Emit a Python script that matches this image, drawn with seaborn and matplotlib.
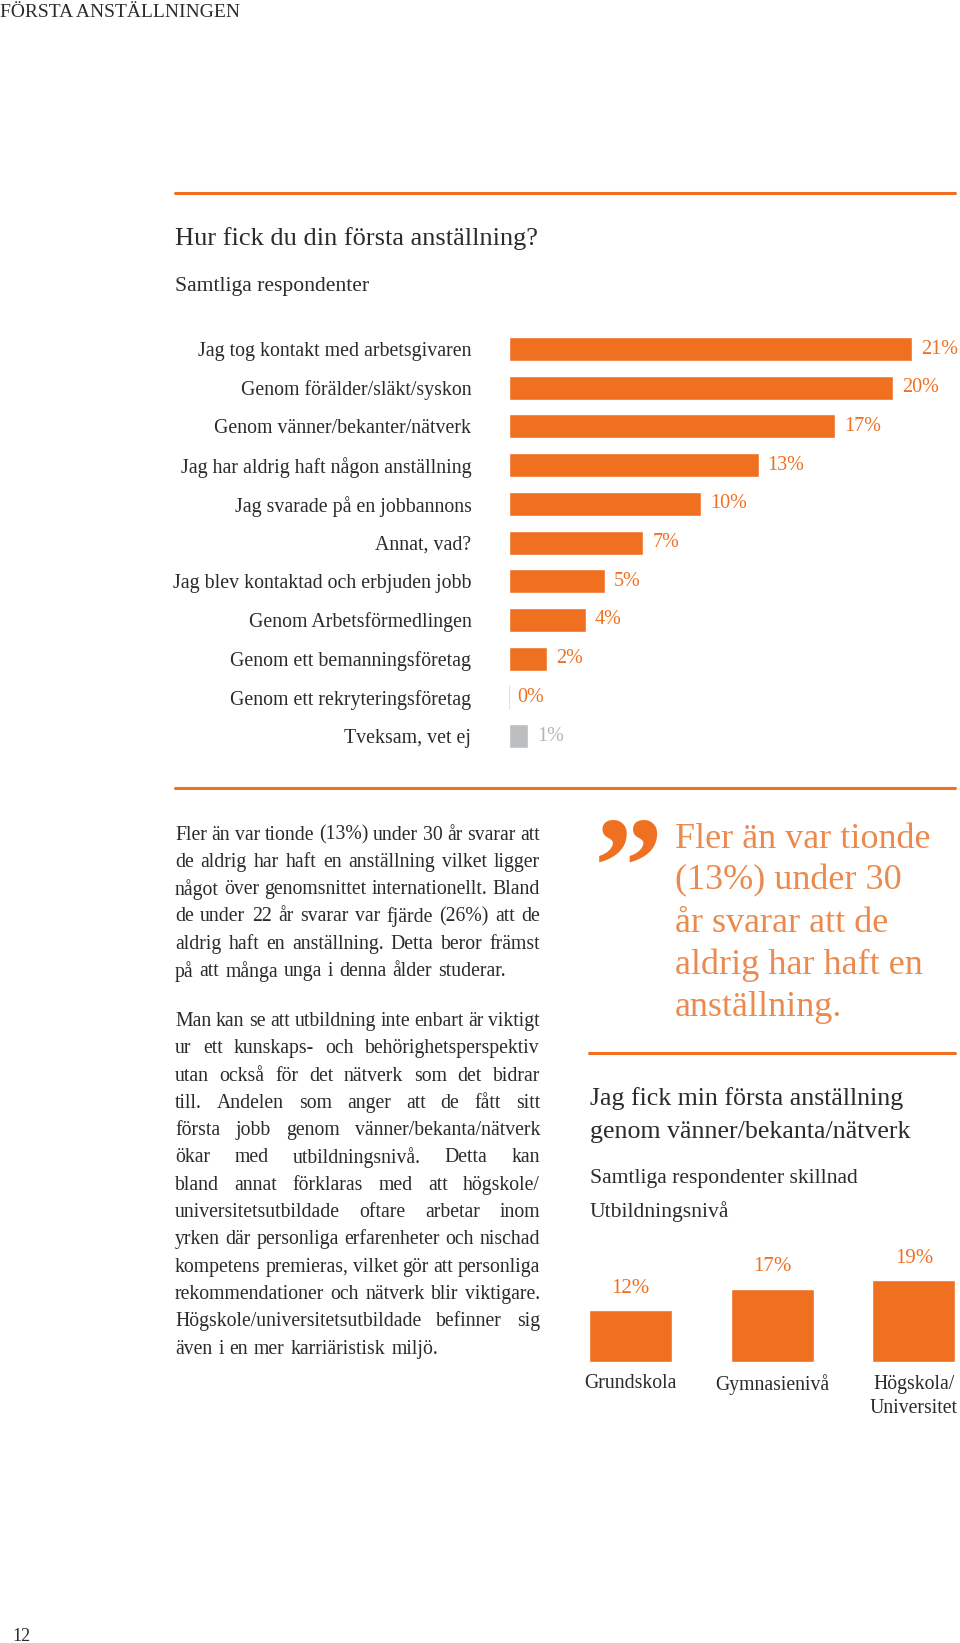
import matplotlib
matplotlib.use("Agg")
import matplotlib.pyplot as plt
import seaborn as sns
import pandas as pd
from matplotlib.lines import Line2D

# data
categories = ["Jag tog kontakt med arbetsgivaren", "Genom förälder/släkt/syskon",
              "Genom vänner/bekanter/nätverk", "Jag har aldrig haft någon anställning",
              "Jag svarade på en jobbannons", "Annat, vad?",
              "Jag blev kontaktad och erbjuden jobb", "Genom Arbetsförmedlingen",
              "Genom ett bemanningsföretag", "Genom ett rekryteringsföretag",
              "Tveksam, vet ej"]
values = [21, 20, 17, 13, 10, 7, 5, 4, 2, 0, 1]

edu_levels = ["Grundskola", "Gymnasienivå", "Högskola/\nUniversitet"]
edu_values = [12, 17, 19]

para1 = ["Fler än var tionde (13%) under 30 år svarar att",
         "de aldrig har haft en anställning vilket ligger",
         "något över genomsnittet internationellt. Bland",
         "de under 22 år svarar var fjärde (26%) att de",
         "aldrig haft en anställning. Detta beror främst",
         "på att många unga i denna ålder studerar."]
para2 = ["Man kan se att utbildning inte enbart är viktigt",
         "ur ett kunskaps- och behörighetsperspektiv",
         "utan också för det nätverk som det bidrar",
         "till. Andelen som anger att de fått sitt",
         "första jobb genom vänner/bekanta/nätverk",
         "ökar med utbildningsnivå. Detta kan",
         "bland annat förklaras med att högskole/",
         "universitetsutbildade oftare arbetar inom",
         "yrken där personliga erfarenheter och nischad",
         "kompetens premieras, vilket gör att personliga",
         "rekommendationer och nätverk blir viktigare.",
         "Högskole/universitetsutbildade befinner sig",
         "även i en mer karriäristisk miljö."]
quote = ["Fler än var tionde", "(13%) under 30", "år svarar att de",
         "aldrig har haft en", "anställning."]

ORANGE = "#F07022"
GREY = "#BDBEC0"
QUOTE_COL = "#EB8A4E"
TXT = "#2b2b2b"
W, H = 960, 1643

sns.set_theme(style="white")
plt.rcParams["font.family"] = ["Liberation Serif", "DejaVu Serif"]

fig = plt.figure(figsize=(9.6, 16.43), dpi=100)


def fx(x):
    return x / W


def fy(y):
    return 1 - y / H


# main horizontal bars
bar_colors = [ORANGE] * 10 + [GREY]
label_colors = [ORANGE] * 10 + ["#B5B6B8"]
df = pd.DataFrame({"kategori": categories, "andel": values})
ax = fig.add_axes([fx(509), fy(755.4), 441.6 / W, 425.7 / H])
sns.barplot(data=df, y="kategori", x="andel", hue="kategori", palette=bar_colors,
            legend=False, width=0.62, saturation=1, orient="h", ax=ax)
ax.set_xlim(0, 23)
ax.set_ylim(10.5, -0.5)
sns.despine(ax=ax, left=True, bottom=True)
ax.set_xticks([])
ax.set_xlabel("")
ax.set_ylabel("")
ax.tick_params(axis="y", length=0, pad=27, labelsize=14.3, labelcolor=TXT)
for i, cont in enumerate(ax.containers):
    if values[i] == 0:
        cont[0].set_edgecolor("#F3DCCB")
        cont[0].set_linewidth(1)
    ax.bar_label(cont, labels=[f"{values[i]}%"], padding=6.3, color=label_colors[i],
                 fontsize=14.5, clip_on=False)

# small bar chart
ax2 = fig.add_axes([fx(589.4), fy(1362), 365.6 / W, 86 / H])
sns.barplot(x=edu_levels, y=edu_values, color=ORANGE, width=0.586, saturation=1, ax=ax2)
ax2.set_xlim(-0.29, 2.29)
ax2.set_ylim(0, 20)
sns.despine(ax=ax2, left=True, bottom=True)
ax2.set_yticks([])
ax2.tick_params(axis="x", length=0, pad=9, labelsize=14.2, labelcolor=TXT)
for lbl in ax2.get_xticklabels():
    lbl.set_linespacing(1.4)
ax2.bar_label(ax2.containers[0], labels=[f"{v}%" for v in edu_values], padding=9,
              color=ORANGE, fontsize=15)

# lines
for x0, x1, y in [(175, 955, 193), (175, 955, 788), (589, 955, 1053)]:
    fig.add_artist(Line2D([fx(x0), fx(x1)], [fy(y), fy(y)], transform=fig.transFigure,
                          color=ORANGE, lw=2.2))

# header texts
fig.text(fx(0), fy(12.5), "FÖRSTA ANSTÄLLNINGEN", fontsize=14, color=TXT, va="center")
fig.text(fx(175), fy(239), "Hur fick du din första anställning?", fontsize=19,
         color=TXT, va="center")
fig.text(fx(175), fy(287), "Samtliga respondenter", fontsize=15.6, color=TXT, va="center")


# justified paragraphs
def justify(lines, x0, x1, y0, dy, size):
    r = fig.canvas.get_renderer()
    space = size * 0.3 * 100 / 72
    for i, line in enumerate(lines):
        words = line.split(" ")
        y = y0 + i * dy
        arts = [fig.text(0, fy(y), w, fontsize=size, color=TXT, va="center") for w in words]
        widths = [a.get_window_extent(r).width for a in arts]
        if i == len(lines) - 1 or len(words) == 1:
            gap = space
        else:
            gap = max((x1 - x0 - sum(widths)) / (len(words) - 1), 2)
        x = x0
        for a, w in zip(arts, widths):
            a.set_x(fx(x))
            x += w + gap


justify(para1, 175, 540, 835, 27.3, 14.2)
justify(para2, 175, 540, 1021.5, 27.3, 14.2)

# quote
fig.text(fx(594), fy(816), "\u201D", fontsize=100, fontweight="bold", color=ORANGE,
         va="top", ha="left")
for i, line in enumerate(quote):
    fig.text(fx(675), fy(839 + i * 42), line, fontsize=26, color=QUOTE_COL, va="center")

fig.text(fx(590), fy(1099), "Jag fick min första anställning", fontsize=18.6, color=TXT, va="center")
fig.text(fx(590), fy(1132), "genom vänner/bekanta/nätverk", fontsize=18.6, color=TXT, va="center")
fig.text(fx(590), fy(1178), "Samtliga respondenter skillnad", fontsize=15.6, color=TXT, va="center")
fig.text(fx(590), fy(1212), "Utbildningsnivå", fontsize=15.6, color=TXT, va="center")

fig.text(fx(12), fy(1628), "12", fontsize=13, color=TXT, va="top")

fig.savefig("out.png", dpi=100, facecolor="white")
